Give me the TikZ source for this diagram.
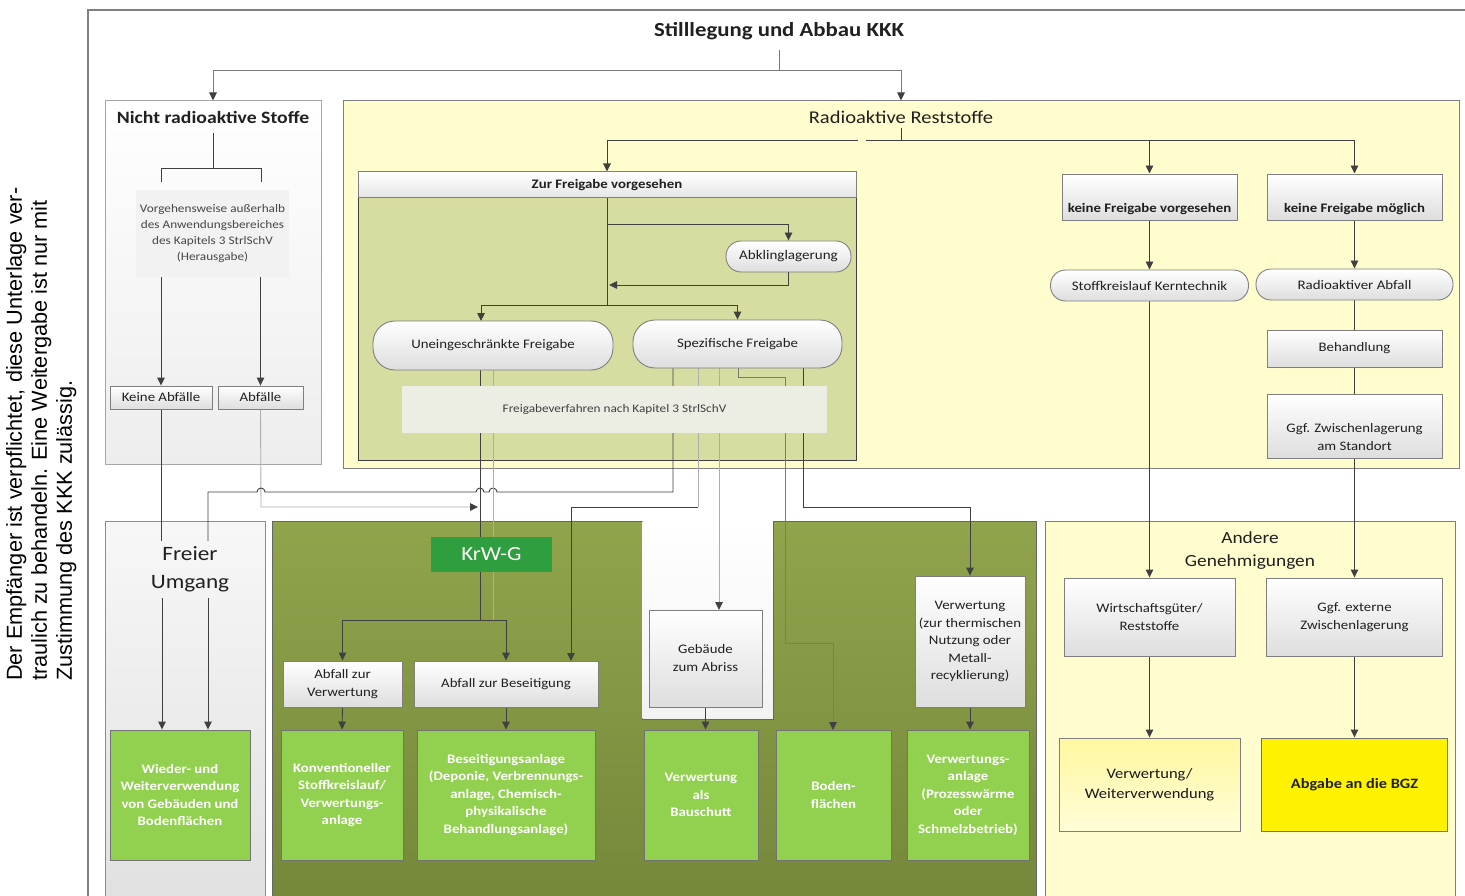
\documentclass[tikz,border=0pt]{standalone}
\usepackage{fontspec}
\setmainfont{Carlito}[FakeStretch=1.14]
\newfontfamily\arialf{Liberation Sans}
\usetikzlibrary{arrows.meta,calc}
\newcommand\fsz[2]{\fontsize{#1}{#2}\selectfont}
\definecolor{dk}{HTML}{404040}
\definecolor{md}{HTML}{7A7A7A}
\definecolor{lt}{HTML}{ADADAD}
\definecolor{bord}{HTML}{7F7F7F}
\definecolor{ylw}{HTML}{FFFDCD}
\definecolor{olv}{HTML}{D7DDA1}
\definecolor{olvA}{HTML}{90A44C}
\definecolor{olvB}{HTML}{75873A}
\definecolor{grn}{HTML}{92D050}
\definecolor{krw}{HTML}{2E9E3E}
\definecolor{fvb}{HTML}{ECEEE4}
\definecolor{txt}{HTML}{202020}
\definecolor{vwA}{HTML}{FFF7A0}
\definecolor{vwB}{HTML}{FFFDD8}
\pgfdeclarelayer{bg}\pgfdeclarelayer{lines}\pgfsetlayers{bg,lines,main}
\tikzset{
 panel/.style={draw=bord, line width=1pt, inner sep=0},
 box/.style={draw=bord, line width=0.9pt, top color=white, bottom color=black!13, align=center, inner sep=2pt, text=txt, font=\fsz{13}{18}},
 pill/.style={box, rounded corners=15pt},
 gbox/.style={draw=black!55, line width=0.9pt, fill=grn, text=white, font=\bfseries\fsz{13}{17.5}, align=center, inner sep=2pt},
 con/.style={draw=dk, line width=0.9pt},
 mcon/.style={draw=md, line width=0.9pt},
 lcon/.style={draw=lt, line width=0.9pt},
 arr/.style={-{Triangle[length=8pt,width=7.5pt,color=dk]}},
}
\begin{document}
\begin{tikzpicture}[x=1pt,y=-1pt]
\useasboundingbox (0,0) rectangle (1465,896);
\begin{pgfonlayer}{bg}
 \fill[white] (0,0) rectangle (1465,896);
 \draw[draw=black!50, line width=1.4pt] (1465,10) -- (88,10) -- (88,896);
 \node[panel, draw=black!35, top color=white, bottom color=black!7, minimum width=216, minimum height=363] (nrs) at (213,282.5) {};
 \node[panel, fill=ylw, minimum width=1116, minimum height=367] (rrs) at (901,284.5) {};
 \node[panel, draw=dk, fill=olv, minimum width=498, minimum height=288] (zfv) at (607,316) {};
 \node[panel, top color=white, bottom color=black!10, minimum width=498, minimum height=26, font=\bfseries\fsz{13}{15}, text=txt] (zfvh) at (607,185) {Zur Freigabe vorgesehen};
 \node[panel, draw=black!45, top color=black!3, bottom color=black!12, minimum width=160, minimum height=380] (fup) at (185,711) {};
 \path[draw=black!60, line width=1pt, top color=olvA, bottom color=olvB] (272,521) -- (642,521) -- (642,719) -- (773,719) -- (773,521) -- (1036,521) -- (1036,901) -- (272,901) -- cycle;
 \path[top color=white, bottom color=black!5] (642.5,521.5) rectangle (772.5,718.5);
 \node[panel, fill=ylw, minimum width=410, minimum height=380] (agp) at (1250,711) {};
\end{pgfonlayer}

% titles and texts
\node[font=\arialf\fsz{21.7}{25}, rotate=90, anchor=north west, align=left, inner sep=0] (note) at (6,681) {Der Empfänger ist verpflichtet, diese Unterlage ver-\\traulich zu behandeln. Eine Weitergabe ist nur mit\\Zustimmung des KKK zulässig.};
\node[font=\bfseries\fsz{20}{24}, text=txt] (title) at (779,31) {Stilllegung und Abbau KKK};
\node[font=\bfseries\fsz{17.3}{20}, text=txt] (nrst) at (213,117) {Nicht radioaktive Stoffe};
\node[font=\fsz{18}{20}, text=txt] (rrst) at (901,117) {Radioaktive Reststoffe};

% left column
\node[fill=black!5, minimum width=153, minimum height=87, text=black!72, font=\fsz{11.6}{16}, align=center, inner sep=1pt] (vg) at (212.5,233.5) {Vorgehensweise außerhalb\\des Anwendungsbereiches\\des Kapitels 3 StrlSchV\\(Herausgabe)};
\node[box, minimum width=102, minimum height=23] (ka) at (161,397.5) {Keine Abfälle};
\node[box, minimum width=85, minimum height=23] (ab) at (260.5,397.5) {Abfälle};

% Zur Freigabe
\node[pill, minimum width=125, minimum height=31, font=\fsz{13.2}{15}] (abk) at (788.5,256.5) {Abklinglagerung};
\node[pill, rounded corners=22pt, minimum width=240, minimum height=49] (uf) at (493,345.5) {Uneingeschränkte Freigabe};
\node[pill, rounded corners=22pt, minimum width=209, minimum height=48] (sf) at (737.5,344) {Spezifische Freigabe};
\node[fill=fvb, minimum width=425, minimum height=47, font=\fsz{11.6}{13}, text=black!75] (fv) at (614.5,409.5) {Freigabeverfahren nach Kapitel 3 StrlSchV};

% right column
\node[box, minimum width=175, minimum height=46, font=\bfseries\fsz{13}{14}] (kfv) at (1149.5,197) {~\\[20pt]keine Freigabe vorgesehen};
\node[box, minimum width=175, minimum height=46, font=\bfseries\fsz{13}{14}] (kfm) at (1354.5,197) {~\\[20pt]keine Freigabe möglich};
\node[pill, minimum width=198, minimum height=31, font=\fsz{13.1}{15}] (skk) at (1149.5,285.5) {Stoffkreislauf Kerntechnik};
\node[pill, minimum width=197, minimum height=31, font=\fsz{13.1}{15}] (raf) at (1354.5,284.5) {Radioaktiver Abfall};
\node[box, minimum width=175, minimum height=37] (beh) at (1354.5,348.5) {Behandlung};
\node[box, minimum width=175, minimum height=64] (gzs) at (1354.5,426) {~\\[14pt]Ggf. Zwischenlagerung\\am Standort};

% bottom left
\node[font=\fsz{20.4}{28}, align=center, text=txt] (fut) at (190,569) {Freier\\Umgang};
\node[gbox, minimum width=140, minimum height=130] (wie) at (180,795) {Wieder- und\\Weiterverwendung\\von Gebäuden und\\Bodenflächen};

% olive area
\node[fill=krw, minimum width=121, minimum height=35, text=white, font=\fsz{20}{24}] (krwg) at (491.5,554.5) {KrW-G};
\node[box, minimum width=119, minimum height=46] (avw) at (342.5,684) {Abfall zur\\Verwertung};
\node[box, minimum width=184, minimum height=46] (abs) at (506,684) {Abfall zur Beseitigung};
\node[gbox, minimum width=122, minimum height=130] (kon) at (342,795) {Konventioneller\\Stoffkreislauf/\\Verwertungs-\\anlage};
\node[gbox, minimum width=178, minimum height=130] (bes) at (506,795) {Beseitigungsanlage\\(Deponie, Verbrennungs-\\anlage, Chemisch-\\physikalische\\Behandlungsanlage)};
\node[box, minimum width=113, minimum height=97] (geb) at (705.5,658.5) {Gebäude\\zum Abriss};
\node[gbox, minimum width=114, minimum height=130] (bau) at (701,795) {Verwertung\\als\\Bauschutt};
\node[box, minimum width=110, minimum height=131, font=\fsz{13}{17.5}, inner sep=0pt] (vzt) at (970,641.5) {Verwertung\\(zur thermischen\\Nutzung oder\\Metall-\\recyklierung)};
\node[gbox, minimum width=115, minimum height=130] (bod) at (833.5,795) {Boden-\\flächen};
\node[gbox, minimum width=122, minimum height=130] (vwa) at (968,795) {Verwertungs-\\anlage\\(Prozesswärme\\oder\\Schmelzbetrieb)};

% andere Genehmigungen
\node[font=\fsz{17}{23}, align=center, text=txt] (agt) at (1250,551) {Andere\\Genehmigungen};
\node[box, minimum width=171, minimum height=78] (wgr) at (1149.5,617) {Wirtschaftsgüter/\\Reststoffe};
\node[box, minimum width=176, minimum height=78] (gez) at (1354.5,617) {Ggf. externe\\Zwischenlagerung};
\node[box, top color=vwA, bottom color=vwB, minimum width=181, minimum height=93, font=\fsz{14.5}{20}, text=black!90] (vww) at (1149.5,784.5) {Verwertung/\\Weiterverwendung};
\node[draw=black!55, line width=0.9pt, fill=yellow, minimum width=186, minimum height=93, font=\bfseries\fsz{14.3}{16}, text=txt] (bgz) at (1354.5,784.5) {Abgabe an die BGZ};

\begin{pgfonlayer}{lines}
 % top
 \coordinate (t0) at (779,50);
 \draw[mcon,arr] (t0) -- (779,70) -| (nrs.north);
 \draw[mcon,arr] (t0) -- (779,70) -| (rrs.north);
 % radioaktive
 \coordinate (r0) at (901,128);
 \draw[con,arr] (r0) -- (901,140) -| (zfvh.north);
 \draw[con,arr] (r0) -- (901,140) -| (kfv.north);
 \draw[con,arr] (r0) -- (901,140) -| (kfm.north);
 \draw[draw=ylw, line width=2.5pt] (858,140) -- (866,140);
 % nicht radioaktiv
 \coordinate (n0) at (213,133);
 \draw[con] (n0) -- (213,168);
 \draw[con] (161,182) -- (161,168) -- (261,168) -- (261,182);
 \draw[con,arr] (vg.south -| ka.north) -- (ka.north);
 \draw[con,arr] (vg.south -| ab.north) -- (ab.north);
 % to Freier Umgang
 \draw[con] (ka.south) -- (161,541);
 \coordinate (fu1) at (162,598);
 \draw[con,arr] (fu1) -- (fu1 |- wie.north);
 \coordinate (fu2) at (208,598);
 \draw[con,arr] (fu2) -- (fu2 |- wie.north);
 \draw[lcon,arr] (ab.south) -- (261,507) -- (478,507);
 \draw[con] (673,360) -- (673,492) -- (497,492) arc[start angle=0,end angle=-180,radius=4] -- (484,492) arc[start angle=0,end angle=-180,radius=4] -- (265,492) arc[start angle=0,end angle=-180,radius=4] -- (208,492) -- (208,541);
 % Zur Freigabe inner
 \draw[con] (zfvh.south) -- (607,305);
 \draw[con,arr] (607,224) -| (abk.north);
 \draw[con,arr] (abk.south) |- (609,285);
 \draw[con,arr] (607,305) -| (481,321);
 \draw[con,arr] (607,305) -| (sf.north);
 % Uneingeschraenkte
 \draw[con] (480,360) -- (480,620);
 \draw[lcon] (493,360) -- (493,620);
 \draw[con,arr] (480,620) -| (avw.north);
 \draw[con,arr] (480,620) -| (abs.north);
 % Spezifische
 \draw[lcon] (698,360) -- (698,507);
 \draw[con,arr] (698,507) -- (571,507) -- (571,661);
 \draw[lcon,arr] (719,360) -- (719,610);
 \draw[mcon,arr] (738,360) -- (738,377) -- (785,377) -- (785,643) -- (833,643) -- (833,730);
 \draw[con,arr] (803,360) -- (803,507) -- (970,507) -- (vzt.north);
 % right
 \draw[con,arr] (kfv.south) -- (skk.north);
 \draw[con,arr] (kfm.south) -- (raf.north);
 \draw[con] (raf.south) -- (beh.north);
 \draw[con] (beh.south) -- (gzs.north);
 \draw[con,arr] (gzs.south) -- (gez.north);
 \draw[con,arr] (skk.south) -- (wgr.north);
 \draw[con,arr] (wgr.south) -- (vww.north);
 \draw[con,arr] (gez.south) -- (bgz.north);
 % bottom
 \draw[con,arr] (avw.south) -- (kon.north);
 \draw[con,arr] (abs.south) -- (bes.north);
 \draw[con,arr] (geb.south) -- (geb.south |- bau.north);
 \draw[con,arr] (vzt.south) -- (vzt.south |- vwa.north);
\end{pgfonlayer}
\end{tikzpicture}
\end{document}
